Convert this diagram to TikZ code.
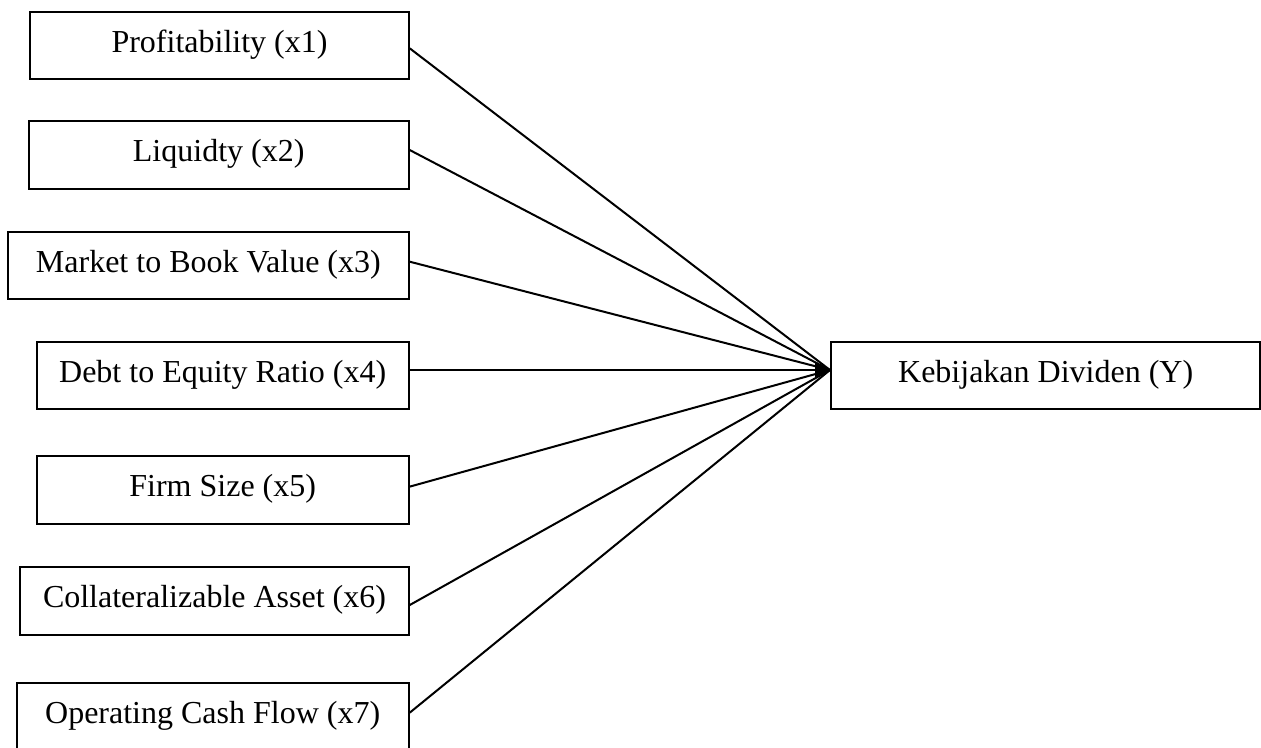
\documentclass[tikz,border=0pt]{standalone}
\usepackage{fontspec}
\setmainfont{Liberation Serif}
\usetikzlibrary{arrows.meta}
\begin{document}
\begin{tikzpicture}[x=0.375pt,y=-0.375pt,
  varbox/.style={draw=black,line width=0.75pt,rectangle,inner sep=0pt,
    minimum height=25.4pt,text height=9pt,text depth=4pt,
    font=\fontsize{12}{14}\selectfont,anchor=center},
  link/.style={draw=black,line width=0.75pt}]
\useasboundingbox (0,0) rectangle (1261,747);
\node[varbox,minimum width=141.9pt] (b1) at (219.5,45.5) {Profitability (x1)};
\node[varbox,minimum width=142.5pt] (b2) at (218.7,155.2) {Liquidty (x2)};
\node[varbox,minimum width=150.26pt] (b3) at (208.35,265.5) {Market to Book Value (x3)};
\node[varbox,minimum width=139.5pt] (b4) at (222.7,375.5) {Debt to Equity Ratio (x4)};
\node[varbox,minimum width=139.5pt] (b5) at (222.7,489.65) {Firm Size (x5)};
\node[varbox,minimum width=145.65pt] (b6) at (214.5,601.15) {Collateralizable Asset (x6)};
\node[varbox,minimum width=147pt] (b7) at (212.7,716.7) {Operating Cash Flow (x7)};
\node[varbox,minimum width=161pt] (y) at (1045.65,375.5) {Kebijakan Dividen (Y)};
\coordinate (hub) at ([yshift=2.06pt]y.west);
\draw[link] ([yshift=-1.05pt]b1.east) -- (hub);
\draw[link] ([yshift=1.95pt]b2.east) -- (hub);
\draw[link] ([yshift=1.43pt]b3.east) -- (hub);
\draw[link] ([yshift=1.13pt]b5.east) -- (hub);
\draw[link] ([yshift=-1.46pt]b6.east) -- (hub);
\draw[link] ([yshift=1.5pt]b7.east) -- (hub);
\draw[link,-{Triangle[length=5.6pt,width=5.4pt]}] ([yshift=2.06pt]b4.east) -- (hub);
\end{tikzpicture}
\end{document}
